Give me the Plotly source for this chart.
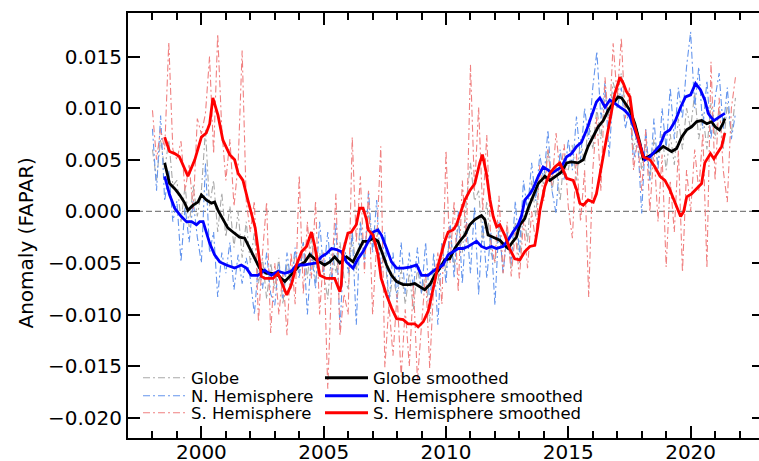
import plotly.graph_objects as go

# ---------------- data ----------------
raw_start = 1998.0          # first raw sample (decimal year)
raw_per_year = 6            # bimonthly samples

globe_raw = [
    0.0060, 0.0030, 0.0070, 0.0040, 0.0069, 0.0025,     # 1998
    0.0030, -0.0010, 0.0025, -0.0015, 0.0025, -0.0005,  # 1999
    0.0020, 0.0079, 0.0005, 0.0030, -0.0020, 0.0018,    # 2000
    -0.0025, 0.0005, -0.0035, 0.0000, -0.0045, -0.0010, # 2001
    -0.0050, -0.0020, -0.0070, -0.0045, -0.0085, -0.0050,  # 2002
    -0.0075, -0.0045, -0.0090, -0.0050, -0.0075, -0.0040,  # 2003
    -0.0060, -0.0030, -0.0065, -0.0025, -0.0070, -0.0040,  # 2004
    -0.0060, -0.0085, -0.0035, -0.0060, -0.0030, -0.0065,  # 2005
    -0.0075, -0.0020, -0.0060, -0.0010, -0.0045, 0.0000,   # 2006
    -0.0030, -0.0015, -0.0055, -0.0040, -0.0090, -0.0060,  # 2007
    -0.0085, -0.0055, -0.0090, -0.0060, -0.0095, -0.0055,  # 2008
    -0.0080, -0.0060, -0.0107, -0.0055, -0.0070, -0.0030,  # 2009
    -0.0060, -0.0020, -0.0055, -0.0010, -0.0040, 0.0010,   # 2010
    0.0047, 0.0010, 0.0020, -0.0030, 0.0010, -0.0040,      # 2011
    -0.0050, -0.0015, -0.0060, -0.0020, -0.0055, -0.0010,  # 2012
    -0.0050, 0.0000, -0.0030, 0.0030, -0.0005, 0.0040,     # 2013
    0.0025, 0.0060, 0.0020, 0.0045, 0.0010, 0.0055,        # 2014
    0.0040, 0.0065, 0.0030, 0.0070, 0.0045, 0.0090,        # 2015
    0.0060, 0.0100, 0.0070, 0.0115, 0.0090, 0.0125,        # 2016
    0.0110, 0.0134, 0.0100, 0.0110, 0.0060, 0.0080,        # 2017
    0.0040, 0.0065, 0.0030, 0.0070, 0.0045, 0.0075,        # 2018
    0.0040, 0.0075, 0.0045, 0.0090, 0.0060, 0.0100,        # 2019
    0.0080, 0.0115, 0.0070, 0.0095, 0.0060, 0.0105,        # 2020
    0.0070, 0.0100, 0.0060, 0.0105, 0.0075, 0.0110,        # 2021
]

north_raw = [
    0.0080, 0.0020, 0.0093, 0.0010, 0.0040, -0.0010,       # 1998
    0.0010, -0.0049, 0.0005, -0.0030, 0.0010, -0.0025,     # 1999
    -0.0050, 0.0047, -0.0040, -0.0020, -0.0083, -0.0040,   # 2000
    -0.0060, -0.0030, -0.0076, -0.0042, -0.0070, -0.0045,  # 2001
    -0.0065, -0.0100, -0.0050, -0.0075, -0.0040, -0.0080,  # 2002
    -0.0091, -0.0050, -0.0084, -0.0040, -0.0070, -0.0035,  # 2003
    -0.0065, -0.0030, -0.0100, -0.0040, -0.0075, -0.0010,  # 2004
    -0.0060, -0.0020, -0.0070, -0.0010, -0.0115, -0.0030,  # 2005
    -0.0060, -0.0020, -0.0110, -0.0010, -0.0050, 0.0020,   # 2006
    -0.0040, 0.0011, -0.0060, -0.0020, -0.0090, -0.0040,   # 2007
    -0.0085, -0.0030, -0.0080, -0.0040, -0.0075, -0.0035,  # 2008
    -0.0080, -0.0030, -0.0090, -0.0040, -0.0110, -0.0030,  # 2009
    -0.0070, -0.0010, -0.0065, 0.0000, -0.0070, -0.0010,   # 2010
    -0.0060, 0.0005, -0.0081, -0.0010, -0.0065, -0.0020,   # 2011
    -0.0091, -0.0010, -0.0060, -0.0020, -0.0050, 0.0010,   # 2012
    -0.0040, 0.0030, 0.0000, 0.0047, 0.0010, 0.0055,       # 2013
    0.0030, 0.0079, 0.0020, -0.0002, 0.0060, 0.0030,       # 2014
    0.0070, 0.0040, 0.0092, 0.0050, 0.0100, 0.0070,        # 2015
    0.0120, 0.0155, 0.0090, 0.0125, 0.0053, 0.0115,        # 2016
    0.0100, 0.0120, 0.0080, 0.0100, 0.0050, 0.0070,        # 2017
    -0.0002, 0.0080, 0.0030, 0.0090, 0.0040, 0.0100,       # 2018
    0.0060, 0.0120, 0.0070, 0.0120, 0.0090, 0.0140,        # 2019
    0.0174, 0.0100, 0.0140, 0.0080, 0.0127, 0.0070,        # 2020
    0.0110, 0.0134, 0.0080, 0.0120, 0.0070, 0.0095,        # 2021
]

south_raw = [
    0.0098, 0.0050, 0.0080, 0.0060, 0.0164, 0.0060,        # 1998
    0.0050, 0.0068, 0.0020, 0.0045, 0.0002, 0.0090,        # 1999
    0.0075, 0.0095, 0.0150, 0.0056, 0.0172, 0.0080,        # 2000
    0.0030, 0.0070, 0.0005, 0.0045, 0.0156, 0.0010,        # 2001
    -0.0020, 0.0010, -0.0107, -0.0040, 0.0009, -0.0118,    # 2002
    -0.0050, -0.0100, -0.0060, -0.0120, -0.0040, -0.0090,  # 2003
    0.0035, -0.0080, -0.0010, -0.0065, 0.0010, -0.0100,    # 2004
    -0.0040, -0.0172, -0.0060, 0.0017, -0.0120, -0.0080,   # 2005
    -0.0100, 0.0072, -0.0030, 0.0034, -0.0060, 0.0020,     # 2006
    -0.0100, -0.0030, 0.0063, -0.0151, -0.0090, -0.0140,   # 2007
    -0.0080, -0.0160, -0.0095, -0.0150, -0.0070, -0.0164,  # 2008
    -0.0110, -0.0060, -0.0152, -0.0070, -0.0040, -0.0090,  # 2009
    0.0059, -0.0050, 0.0010, -0.0078, 0.0030, -0.0030,     # 2010
    0.0142, 0.0020, 0.0101, 0.0000, 0.0074, -0.0030,       # 2011
    -0.0050, 0.0015, -0.0060, -0.0010, -0.0063, -0.0020,   # 2012
    -0.0065, -0.0010, -0.0055, 0.0000, -0.0030, 0.0045,    # 2013
    0.0010, 0.0060, 0.0025, 0.0076, 0.0035, 0.0065,        # 2014
    0.0004, -0.0026, 0.0056, -0.0010, 0.0040, -0.0083,     # 2015
    0.0040, 0.0092, 0.0020, 0.0130, 0.0080, 0.0163,        # 2016
    0.0110, 0.0168, 0.0090, 0.0120, 0.0040, 0.0070,        # 2017
    0.0020, 0.0079, 0.0000, 0.0060, -0.0010, 0.0055,       # 2018
    -0.0054, 0.0030, -0.0020, 0.0059, -0.0059, 0.0040,     # 2019
    0.0000, 0.0060, 0.0020, 0.0076, -0.0055, 0.0145,       # 2020
    0.0030, 0.0110, 0.0040, 0.0009, 0.0100, 0.0130,        # 2021
]

globe_sm_years = [
    1998.50, 1998.70, 1998.91, 1999.11, 1999.32, 1999.45, 1999.66, 1999.86, 2000.00, 2000.20,
    2000.41, 2000.54, 2000.68, 2000.88, 2001.08, 2001.29, 2001.56, 2001.77, 2001.97, 2002.18,
    2002.38, 2002.66, 2002.86, 2003.13, 2003.41, 2003.61, 2003.82, 2004.02, 2004.23, 2004.43,
    2004.63, 2004.84, 2005.04, 2005.25, 2005.45, 2005.66, 2005.93, 2006.20, 2006.47, 2006.61,
    2006.81, 2007.02, 2007.22, 2007.36, 2007.57, 2007.77, 2007.98, 2008.25, 2008.52, 2008.72,
    2008.93, 2009.13, 2009.34, 2009.54, 2009.75, 2009.95, 2010.15, 2010.36, 2010.56, 2010.77,
    2010.97, 2011.18, 2011.38, 2011.45, 2011.59, 2011.72, 2011.93, 2012.20, 2012.40, 2012.54,
    2012.74, 2012.88, 2013.02, 2013.22, 2013.36, 2013.56, 2013.77, 2013.97, 2014.04, 2014.25,
    2014.52, 2014.72, 2014.93, 2015.13, 2015.40, 2015.61, 2015.81, 2016.02, 2016.22, 2016.43,
    2016.63, 2016.84, 2017.04, 2017.18, 2017.31, 2017.52, 2017.72, 2017.93, 2018.06, 2018.27,
    2018.47, 2018.68, 2018.88, 2019.02, 2019.22, 2019.43, 2019.63, 2019.84, 2020.04, 2020.25,
    2020.45, 2020.66, 2020.86, 2021.00, 2021.18, 2021.32, 2021.40,
]
globe_sm = [
    0.0047, 0.0027, 0.0022, 0.0016, 0.0008, 0.0001, 0.0006, 0.0009, 0.0016, 0.0011,
    0.0008, 0.0009, 0.0001, -0.0008, -0.0016, -0.0020, -0.0025, -0.0026, -0.0036, -0.0046,
    -0.0055, -0.0060, -0.0060, -0.0062, -0.0068, -0.0063, -0.0057, -0.0052, -0.0049, -0.0042,
    -0.0046, -0.0049, -0.0052, -0.0049, -0.0044, -0.0050, -0.0044, -0.0049, -0.0036, -0.0029,
    -0.0029, -0.0026, -0.0029, -0.0039, -0.0052, -0.0062, -0.0068, -0.0071, -0.0071, -0.0070,
    -0.0073, -0.0076, -0.0071, -0.0062, -0.0055, -0.0047, -0.0046, -0.0036, -0.0029, -0.0023,
    -0.0013, -0.0008, -0.0005, -0.0004, -0.0008, -0.0023, -0.0025, -0.0028, -0.0033, -0.0036,
    -0.0029, -0.0025, -0.0013, -0.0007, 0.0003, 0.0014, 0.0027, 0.0032, 0.0034, 0.0030,
    0.0035, 0.0038, 0.0047, 0.0048, 0.0047, 0.0050, 0.0063, 0.0072, 0.0082, 0.0088,
    0.0098, 0.0105, 0.0111, 0.0110, 0.0105, 0.0098, 0.0085, 0.0066, 0.0051, 0.0053,
    0.0056, 0.0059, 0.0063, 0.0061, 0.0058, 0.0061, 0.0072, 0.0079, 0.0082, 0.0087,
    0.0088, 0.0085, 0.0087, 0.0082, 0.0079, 0.0085, 0.0090,
]

north_sm_years = [
    1998.50, 1998.70, 1998.91, 1999.18, 1999.39, 1999.60, 1999.80, 1999.93, 2000.07, 2000.20,
    2000.34, 2000.54, 2000.75, 2001.02, 2001.36, 2001.63, 2001.84, 2002.04, 2002.31, 2002.59,
    2002.86, 2003.13, 2003.41, 2003.68, 2003.89, 2004.16, 2004.50, 2004.70, 2004.90, 2005.11,
    2005.32, 2005.52, 2005.72, 2005.93, 2006.20, 2006.40, 2006.61, 2006.81, 2007.02, 2007.22,
    2007.36, 2007.57, 2007.77, 2007.98, 2008.25, 2008.52, 2008.80, 2009.00, 2009.27, 2009.47,
    2009.68, 2009.88, 2010.09, 2010.29, 2010.50, 2010.70, 2010.90, 2011.11, 2011.25, 2011.45,
    2011.65, 2011.86, 2012.06, 2012.33, 2012.54, 2012.74, 2012.95, 2013.09, 2013.22, 2013.43,
    2013.56, 2013.77, 2013.97, 2014.18, 2014.32, 2014.52, 2014.72, 2014.93, 2015.13, 2015.34,
    2015.54, 2015.75, 2015.95, 2016.15, 2016.29, 2016.50, 2016.70, 2016.90, 2017.11, 2017.31,
    2017.52, 2017.72, 2017.93, 2018.13, 2018.34, 2018.54, 2018.75, 2018.95, 2019.15, 2019.38,
    2019.59, 2019.79, 2020.00, 2020.20, 2020.40, 2020.58, 2020.72, 2020.81, 2020.95, 2021.27,
    2021.40,
]
north_sm = [
    0.0034, 0.0016, 0.0003, -0.0005, -0.0010, -0.0010, -0.0013, -0.0010, -0.0010, -0.0020,
    -0.0031, -0.0042, -0.0049, -0.0052, -0.0055, -0.0052, -0.0055, -0.0062, -0.0062, -0.0057,
    -0.0062, -0.0058, -0.0060, -0.0058, -0.0052, -0.0052, -0.0051, -0.0050, -0.0044, -0.0041,
    -0.0036, -0.0037, -0.0039, -0.0049, -0.0055, -0.0046, -0.0039, -0.0029, -0.0020, -0.0018,
    -0.0023, -0.0036, -0.0049, -0.0055, -0.0055, -0.0054, -0.0052, -0.0062, -0.0062, -0.0058,
    -0.0055, -0.0052, -0.0042, -0.0039, -0.0036, -0.0036, -0.0034, -0.0031, -0.0029, -0.0034,
    -0.0036, -0.0034, -0.0036, -0.0034, -0.0028, -0.0020, -0.0013, -0.0004, 0.0011, 0.0017,
    0.0022, 0.0034, 0.0043, 0.0040, 0.0037, 0.0040, 0.0043, 0.0053, 0.0056, 0.0063,
    0.0067, 0.0079, 0.0092, 0.0106, 0.0110, 0.0101, 0.0108, 0.0105, 0.0101, 0.0098,
    0.0092, 0.0079, 0.0063, 0.0050, 0.0053, 0.0058, 0.0064, 0.0076, 0.0079, 0.0088,
    0.0101, 0.0111, 0.0113, 0.0124, 0.0118, 0.0108, 0.0095, 0.0092, 0.0088, 0.0093,
    0.0095,
]

south_sm_years = [
    1998.50, 1998.70, 1998.91, 1999.10, 1999.45, 1999.73, 2000.00, 2000.20, 2000.34, 2000.47,
    2000.68, 2000.88, 2001.16, 2001.36, 2001.50, 2001.70, 2001.90, 2002.10, 2002.20, 2002.33,
    2002.45, 2002.60, 2002.93, 2003.13, 2003.27, 2003.49, 2003.68, 2003.89, 2004.10, 2004.30,
    2004.50, 2004.63, 2004.84, 2005.11, 2005.45, 2005.66, 2005.72, 2005.79, 2005.99, 2006.13,
    2006.33, 2006.47, 2006.61, 2006.75, 2006.82, 2007.02, 2007.22, 2007.35, 2007.57, 2007.78,
    2007.98, 2008.25, 2008.45, 2008.72, 2008.86, 2009.07, 2009.27, 2009.40, 2009.54, 2009.68,
    2009.82, 2009.95, 2010.09, 2010.29, 2010.43, 2010.63, 2010.77, 2010.97, 2011.18, 2011.38,
    2011.49, 2011.65, 2011.80, 2011.93, 2012.07, 2012.20, 2012.40, 2012.60, 2012.81, 2013.02,
    2013.22, 2013.43, 2013.63, 2013.75, 2013.84, 2014.04, 2014.25, 2014.45, 2014.65, 2014.79,
    2014.93, 2015.20, 2015.34, 2015.47, 2015.61, 2015.81, 2016.02, 2016.15, 2016.29, 2016.50,
    2016.70, 2016.90, 2017.11, 2017.25, 2017.38, 2017.52, 2017.65, 2017.86, 2018.06, 2018.34,
    2018.54, 2018.75, 2018.95, 2019.15, 2019.38, 2019.59, 2019.72, 2019.84, 2020.04, 2020.25,
    2020.45, 2020.58, 2020.72, 2020.81, 2020.95, 2021.27, 2021.40,
]
south_sm = [
    0.0072, 0.0058, 0.0056, 0.0053, 0.0034, 0.0050, 0.0072, 0.0076, 0.0085, 0.0110,
    0.0093, 0.0069, 0.0055, 0.0050, 0.0037, 0.0030, 0.0011, -0.0007, -0.0016, -0.0039,
    -0.0063, -0.0065, -0.0065, -0.0060, -0.0068, -0.0081, -0.0071, -0.0052, -0.0039, -0.0034,
    -0.0020, -0.0033, -0.0062, -0.0065, -0.0065, -0.0078, -0.0071, -0.0039, -0.0021, -0.0020,
    -0.0013, 0.0003, 0.0003, -0.0008, -0.0018, -0.0023, -0.0042, -0.0065, -0.0081, -0.0094,
    -0.0104, -0.0105, -0.0109, -0.0109, -0.0112, -0.0107, -0.0097, -0.0084, -0.0068, -0.0052,
    -0.0039, -0.0029, -0.0020, -0.0018, -0.0013, 0.0000, 0.0011, 0.0020, 0.0027, 0.0047,
    0.0055, 0.0037, 0.0011, -0.0005, -0.0015, -0.0013, -0.0023, -0.0036, -0.0046, -0.0047,
    -0.0039, -0.0034, -0.0033, -0.0016, 0.0001, 0.0024, 0.0037, 0.0043, 0.0047, 0.0040,
    0.0032, 0.0030, 0.0021, 0.0008, 0.0006, 0.0011, 0.0009, 0.0017, 0.0037, 0.0063,
    0.0088, 0.0114, 0.0130, 0.0124, 0.0116, 0.0111, 0.0088, 0.0069, 0.0053, 0.0050,
    0.0043, 0.0034, 0.0030, 0.0021, 0.0008, -0.0005, 0.0000, 0.0014, 0.0017, 0.0022,
    0.0027, 0.0047, 0.0053, 0.0056, 0.0051, 0.0063, 0.0076,
]

x_tick_years = [2000, 2005, 2010, 2015, 2020]
y_tick_values = [-0.020, -0.015, -0.010, -0.005, 0.000, 0.005, 0.010, 0.015]

raw_years = [raw_start + i / raw_per_year for i in range(len(globe_raw))]

# ---------------- figure ----------------
FONT = "DejaVu Sans"
W, H = 764, 461           # a few px wider than the window: right spine falls just outside
ML, MR, MT, MB = 128, 0, 13, 23
PW, PH = W - ML - MR, H - MT - MB

raw_dash = "7px,3px,2px,3px"
fig = go.Figure()

raw_specs = [
    ("Globe", globe_raw, "#a9a9a9", "legend"),
    ("N. Hemisphere", north_raw, "#6495ed", "legend2"),
    ("S. Hemisphere", south_raw, "#f08080", "legend3"),
]
for name, vals, col, lg in raw_specs:
    fig.add_trace(go.Scatter(x=raw_years, y=vals, mode="lines", name=name, legend=lg,
                             line=dict(color=col, width=1.1, dash=raw_dash)))

sm_specs = [
    ("Globe smoothed", globe_sm_years, globe_sm, "#000000", "legend4"),
    ("N. Hemisphere smoothed", north_sm_years, north_sm, "#0000ff", "legend5"),
    ("S. Hemisphere smoothed", south_sm_years, south_sm, "#ff0000", "legend6"),
]
for name, xs, vals, col, lg in sm_specs:
    fig.add_trace(go.Scatter(x=xs, y=vals, mode="lines", name=name, legend=lg,
                             line=dict(color=col, width=2.8)))

# horizontal zero line
fig.add_hline(y=0, line=dict(color="#808080", width=1.1, dash="6px,3px"), layer="below")

def px_to_paper_x(px):
    return (px - ML) / PW

def px_to_paper_y(py):
    return (H - MB - py) / PH

leg_common = dict(xanchor="left", yanchor="middle", bgcolor="rgba(0,0,0,0)",
                  borderwidth=0, font=dict(family=FONT, size=16.5, color="#000000"),
                  itemwidth=43)
row_y = [378, 396, 413]
col_x = [138, 320]
legends = {}
names = ["legend", "legend2", "legend3", "legend4", "legend5", "legend6"]
for k, nm in enumerate(names):
    c = k // 3
    r = k % 3
    legends[nm] = dict(leg_common, x=px_to_paper_x(col_x[c]), y=px_to_paper_y(row_y[r]))

fig.update_layout(
    width=W, height=H,
    margin=dict(l=ML, r=MR, t=MT, b=MB, pad=0, autoexpand=False),
    paper_bgcolor="white", plot_bgcolor="white",
    font=dict(family=FONT, size=20, color="#000000"),
    showlegend=True,
    **legends,
)

fig.update_xaxes(
    automargin=False,
    range=[1997.0, 2023.0],
    tickmode="array", tickvals=x_tick_years, ticktext=[str(v) for v in x_tick_years],
    ticks="inside", ticklen=12, tickwidth=2, tickcolor="#000000",
    minor=dict(dtick=1, tick0=1997, ticks="inside", ticklen=7, tickwidth=1.5, tickcolor="#000000"),
    showline=True, linecolor="#000000", linewidth=2, mirror="allticks",
    showgrid=False, zeroline=False, ticklabelstandoff=-5,
    tickfont=dict(family=FONT, size=20, color="#000000"),
)
fig.update_yaxes(
    automargin=False,
    range=[-0.02197, 0.01923],
    tickmode="array", tickvals=y_tick_values,
    ticktext=[("\u2212" if v < 0 else "") + f"{abs(v):.3f}" for v in y_tick_values],
    ticks="inside", ticklen=12, tickwidth=2, tickcolor="#000000",
    showline=True, linecolor="#000000", linewidth=2, mirror="allticks",
    showgrid=False, zeroline=False,
    tickfont=dict(family=FONT, size=20, color="#000000"),
)

fig.add_annotation(text="Anomaly (FAPAR)", textangle=-90, showarrow=False,
                   xref="paper", yref="paper",
                   x=px_to_paper_x(25), y=px_to_paper_y(243.5),
                   xanchor="center", yanchor="middle",
                   font=dict(family=FONT, size=20, color="#000000"))

fig.write_html("out.html",
               config={"displayModeBar": False},
               post_script="document.body.style.margin='0px';document.body.style.overflow='hidden';")
